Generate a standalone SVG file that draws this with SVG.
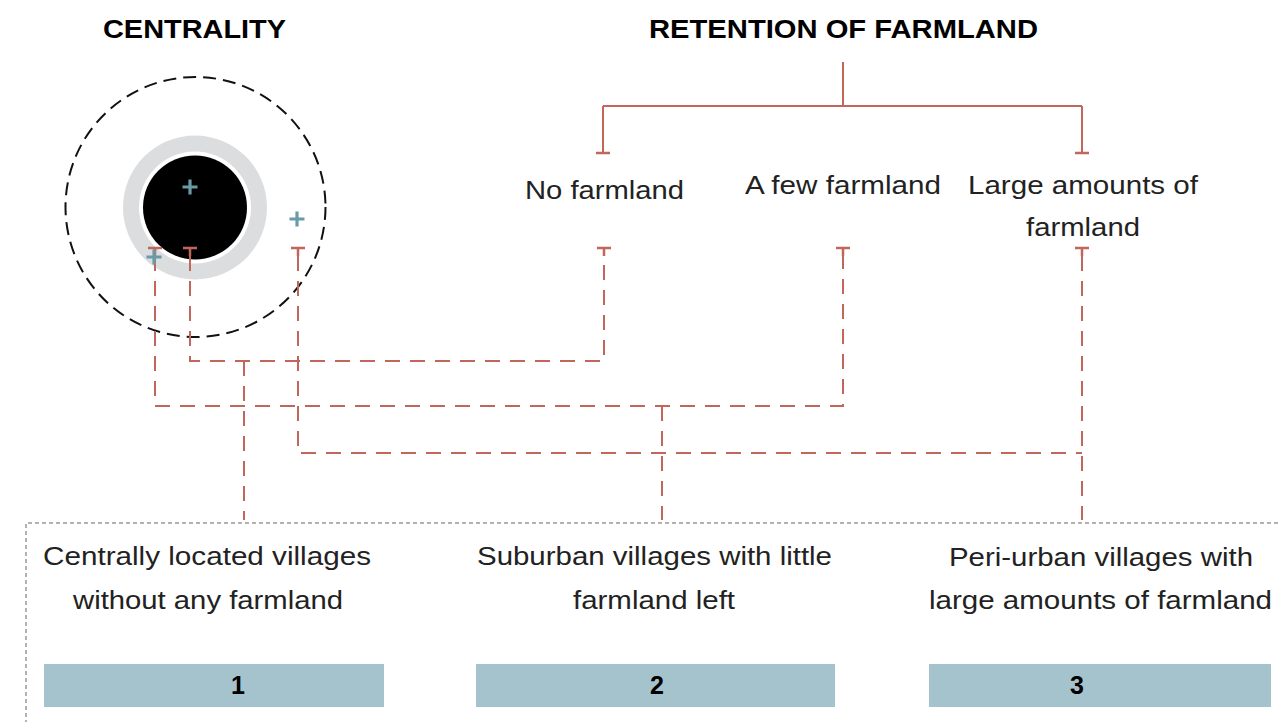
<svg xmlns="http://www.w3.org/2000/svg" width="1278" height="722" viewBox="0 0 1278 722">
  <style>
    .title { font-family: "Liberation Sans", Arial, sans-serif; font-weight: bold; font-size: 25px; fill: #000; }
    .label { font-family: "Liberation Sans", Arial, sans-serif; font-size: 26px; fill: #222; }
    .num { font-family: "Liberation Sans", Arial, sans-serif; font-weight: bold; font-size: 25px; fill: #000; text-anchor: middle; }
    .solid { fill: none; stroke: #c0665a; stroke-width: 2; }
    .tee { fill: none; stroke: #c0665a; stroke-width: 2.5; }
    .dash { fill: none; stroke: #c0665a; stroke-width: 2; stroke-dasharray: 15 10; }
    .plus { fill: none; stroke: #6b9aa7; stroke-width: 3.2; }
    .band { fill: #a5c3cc; }
  </style>
  <rect width="1278" height="722" fill="#fff"/>

  <!-- headings -->
  <g id="heading-centrality">
    <text class="title" x="103" y="38" textLength="183" lengthAdjust="spacingAndGlyphs">CENTRALITY</text>
  </g>
  <g id="heading-retention">
    <text class="title" x="649" y="38" textLength="389" lengthAdjust="spacingAndGlyphs">RETENTION OF FARMLAND</text>
  </g>

  <!-- concentric centrality rings -->
  <g id="centrality-rings">
    <circle cx="195.5" cy="207" r="130" fill="none" stroke="#111" stroke-width="2" stroke-dasharray="13 7"/>
    <circle cx="195" cy="207.5" r="72" fill="#dcdddf"/>
    <circle cx="195" cy="207.5" r="56" fill="#fff"/>
    <circle cx="195" cy="207.5" r="52" fill="#000"/>
  </g>

  <!-- farmland categories -->
  <g id="cat-none">
    <text class="label" x="525" y="199" textLength="159" lengthAdjust="spacingAndGlyphs">No farmland</text>
  </g>
  <g id="cat-few">
    <text class="label" x="745" y="194" textLength="196" lengthAdjust="spacingAndGlyphs">A few farmland</text>
  </g>
  <g id="cat-large">
    <text class="label" x="968" y="194" textLength="230" lengthAdjust="spacingAndGlyphs">Large amounts of</text>
    <text class="label" x="1026" y="236" textLength="114" lengthAdjust="spacingAndGlyphs">farmland</text>
  </g>

  <!-- connectors -->
  <g id="connectors">
    <!-- solid tree from the retention heading -->
    <path class="solid" d="M843 62 V106 M603 106 H1082 M603 106 V153 M1082 106 V153"/>
    <path class="tee" d="M596 153 H610 M1075 153 H1089"/>
    <!-- tee ends of the dashed links -->
    <path class="tee" d="M148 248 H162 M155 248 V256 M183 248 H197 M190 248 V256 M291 248 H305 M298 248 V256 M597 248 H611 M604 248 V256 M836 248 H850 M843 248 V256 M1075 248 H1089 M1082 248 V256"/>
    <!-- dashed links -->
    <path class="dash" d="M190 256 V361 H604 V256"/>
    <path class="dash" d="M155 256 V406 H843 V256"/>
    <path class="dash" d="M298 256 V453 H1082"/>
    <path class="dash" d="M1082 256 V520"/>
    <path class="dash" d="M244 361 V520"/>
    <path class="dash" d="M662 406 V520"/>
  </g>

  <!-- location markers -->
  <g id="markers">
    <path class="plus" d="M182.5 187 H197.5 M190 179.5 V194.5"/>
    <path class="plus" d="M289.5 219 H304.5 M297 211.5 V226.5"/>
    <path class="plus" d="M146.5 257 H161.5 M154 249.5 V264.5"/>
  </g>

  <!-- village types panel -->
  <g id="panel">
    <path d="M1278 523 H26 V722" fill="none" stroke="#666" stroke-width="1" stroke-dasharray="4 3"/>
  </g>

  <g id="type-1">
    <text class="label" x="43" y="565" textLength="328" lengthAdjust="spacingAndGlyphs">Centrally located villages</text>
    <text class="label" x="73" y="609" textLength="270" lengthAdjust="spacingAndGlyphs">without any farmland</text>
    <rect class="band" x="44" y="664" width="340" height="43"/>
    <text class="num" x="238" y="694">1</text>
  </g>
  <g id="type-2">
    <text class="label" x="477" y="565" textLength="355" lengthAdjust="spacingAndGlyphs">Suburban villages with little</text>
    <text class="label" x="573" y="609" textLength="162" lengthAdjust="spacingAndGlyphs">farmland left</text>
    <rect class="band" x="476" y="664" width="359" height="43"/>
    <text class="num" x="657" y="694">2</text>
  </g>
  <g id="type-3">
    <text class="label" x="949" y="566" textLength="304" lengthAdjust="spacingAndGlyphs">Peri-urban villages with</text>
    <text class="label" x="929" y="609" textLength="343" lengthAdjust="spacingAndGlyphs">large amounts of farmland</text>
    <rect class="band" x="929" y="664" width="342" height="43"/>
    <text class="num" x="1077" y="694">3</text>
  </g>
</svg>
